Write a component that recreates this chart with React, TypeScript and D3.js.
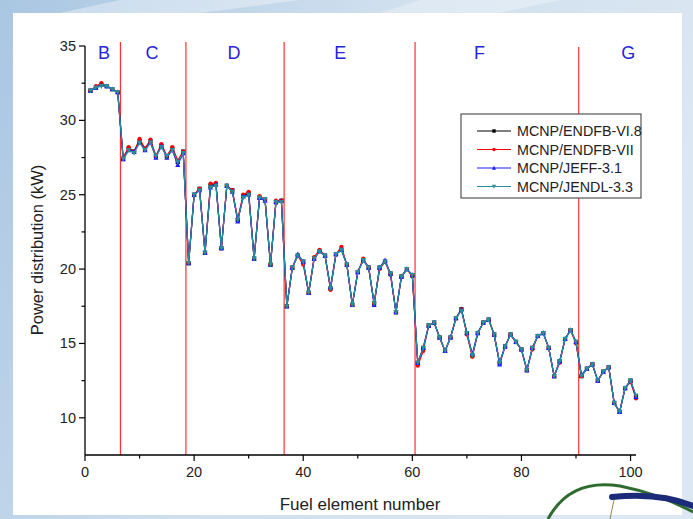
import React from "react";
import * as d3 from "d3";

// ---------------- data ----------------
const elementNumbers: number[] = Array.from({ length: 101 }, (_, i) => i + 1);

const endfb68: number[] = [
  32.0, 32.2, 32.4, 32.3, 32.1, 31.9,
  27.4, 28.1, 27.9, 28.6, 28.1, 28.6, 27.6, 28.3, 27.6, 28.1, 27.2, 27.9,
  20.4, 25.0, 25.4, 21.1, 25.6, 25.7, 21.4, 25.6, 25.3, 23.3, 24.9, 25.1, 20.7, 24.8, 24.7, 20.3, 24.5, 24.6,
  17.5, 20.1, 20.9, 20.5, 18.4, 20.7, 21.2, 20.9, 18.7, 21.0, 21.3, 20.3, 17.6, 19.8, 20.6, 20.1, 17.7, 20.1, 20.5, 19.7, 17.1, 19.5, 20.0, 19.6,
  13.7, 14.7, 16.2, 16.4, 15.4, 14.5, 15.4, 16.7, 17.3, 15.7, 14.2, 15.7, 16.4, 16.6, 15.6, 13.7, 14.8, 15.6, 15.1, 14.6, 13.2, 14.7, 15.5, 15.7, 14.7, 12.8, 13.8, 15.3, 15.9, 15.1,
  12.8, 13.3, 13.6, 12.5, 13.1, 13.4, 11.0, 10.4, 12.0, 12.5, 11.4,
];
const endfb7: number[] = [
  32.0, 32.3, 32.5, 32.3, 32.1, 31.9,
  27.5, 28.2, 27.9, 28.75, 28.1, 28.7, 27.6, 28.4, 27.6, 28.2, 27.3, 27.9,
  20.4, 25.0, 25.4, 21.1, 25.75, 25.8, 21.4, 25.6, 25.3, 23.4, 25.0, 25.2, 20.7, 24.9, 24.7, 20.3, 24.6, 24.6,
  17.5, 20.1, 20.9, 20.3, 18.4, 20.8, 21.3, 20.9, 18.6, 21.0, 21.5, 20.3, 17.6, 19.8, 20.7, 20.1, 17.7, 20.0, 20.5, 19.6, 17.1, 19.5, 20.0, 19.5,
  13.5, 14.5, 16.2, 16.4, 15.4, 14.5, 15.4, 16.7, 17.3, 15.6, 14.1, 15.7, 16.4, 16.6, 15.6, 13.7, 14.8, 15.6, 15.1, 14.6, 13.2, 14.6, 15.5, 15.7, 14.7, 12.8, 13.7, 15.3, 15.9, 15.0,
  12.8, 13.3, 13.6, 12.5, 13.1, 13.4, 11.0, 10.4, 12.0, 12.4, 11.3,
];
const jeff31: number[] = [
  32.0, 32.2, 32.4, 32.3, 32.1, 31.9,
  27.4, 28.0, 27.9, 28.5, 28.0, 28.5, 27.5, 28.3, 27.5, 28.0, 27.0, 27.8,
  20.4, 25.0, 25.3, 21.1, 25.5, 25.7, 21.4, 25.6, 25.2, 23.2, 24.9, 25.0, 20.7, 24.8, 24.6, 20.3, 24.5, 24.6,
  17.5, 20.1, 21.0, 20.5, 18.4, 20.7, 21.2, 20.9, 18.8, 21.0, 21.3, 20.3, 17.6, 19.8, 20.6, 20.1, 17.6, 20.1, 20.6, 19.7, 17.1, 19.5, 20.0, 19.6,
  13.7, 14.7, 16.2, 16.4, 15.4, 14.5, 15.4, 16.7, 17.3, 15.7, 14.3, 15.7, 16.4, 16.6, 15.6, 13.6, 14.8, 15.6, 15.1, 14.6, 13.2, 14.7, 15.5, 15.7, 14.7, 12.8, 13.8, 15.3, 15.9, 15.1,
  12.9, 13.3, 13.6, 12.5, 13.1, 13.4, 11.0, 10.4, 12.0, 12.5, 11.4,
];
const jendl33: number[] = [
  32.0, 32.2, 32.3, 32.3, 32.1, 31.9,
  27.4, 28.0, 27.8, 28.5, 28.0, 28.5, 27.6, 28.2, 27.6, 28.0, 27.2, 27.8,
  20.4, 25.0, 25.3, 21.1, 25.5, 25.6, 21.4, 25.6, 25.2, 23.3, 24.8, 25.0, 20.7, 24.8, 24.7, 20.3, 24.5, 24.5,
  17.5, 20.1, 20.9, 20.5, 18.4, 20.7, 21.2, 20.9, 18.7, 21.0, 21.3, 20.3, 17.6, 19.8, 20.6, 20.1, 17.7, 20.1, 20.5, 19.7, 17.1, 19.5, 20.0, 19.6,
  13.7, 14.7, 16.2, 16.4, 15.4, 14.5, 15.4, 16.7, 17.2, 15.7, 14.2, 15.7, 16.4, 16.6, 15.6, 13.7, 14.8, 15.6, 15.1, 14.6, 13.2, 14.7, 15.5, 15.7, 14.7, 12.8, 13.8, 15.3, 15.9, 15.1,
  12.8, 13.3, 13.6, 12.5, 13.1, 13.4, 11.0, 10.4, 12.0, 12.5, 11.5,
];

const seriesNames: string[] = ["MCNP/ENDFB-VI.8", "MCNP/ENDFB-VII", "MCNP/JEFF-3.1", "MCNP/JENDL-3.3"];
const seriesColors: string[] = ["#000000", "#ff0000", "#1a1aff", "#2a8f9c"];
const seriesMarkers: string[] = ["square", "circle", "up", "down"];
const seriesValues: number[][] = [endfb68, endfb7, jeff31, jendl33];

const regionBoundaries: number[] = [6.5, 18.5, 36.5, 60.5, 90.5];
const regionLabels: string[] = ["B", "C", "D", "E", "F", "G"];
const regionLabelX: number[] = [3.5, 12.3, 27.3, 46.8, 72.3, 99.6];

const xTicks: number[] = [0, 20, 40, 60, 80, 100];
const xMinorTicks: number[] = [10, 30, 50, 70, 90];
const yTicks: number[] = [10, 15, 20, 25, 30, 35];
const yMinorTicks: number[] = [12.5, 17.5, 22.5, 27.5, 32.5];

const W = 693;
const H = 519;
const FONT = "'Liberation Sans', Arial, sans-serif";

function markerPath(kind: string, cx: number, cy: number, s: number): string {
  if (kind === "square") return `M${cx - s},${cy - s}h${2 * s}v${2 * s}h${-2 * s}Z`;
  if (kind === "up") return `M${cx},${cy - s * 1.3}L${cx + s * 1.2},${cy + s}L${cx - s * 1.2},${cy + s}Z`;
  if (kind === "down") return `M${cx},${cy + s * 1.3}L${cx + s * 1.2},${cy - s}L${cx - s * 1.2},${cy - s}Z`;
  return `M${cx - s},${cy}a${s},${s} 0 1,0 ${2 * s},0a${s},${s} 0 1,0 ${-2 * s},0Z`;
}

export default function App() {
  const x = d3.scaleLinear().domain([0, 101]).range([85, 636]);
  const y = d3.scaleLinear().domain([7.5, 35]).range([455, 46]);
  const line = d3
    .line<number>()
    .x((_, i) => x(elementNumbers[i]))
    .y((d) => y(d));

  const legendX = 461;
  const legendY = 114;

  return (
    <svg
      width={W}
      height={H}
      viewBox={`0 0 ${W} ${H}`}
      style={{ position: "absolute", left: 0, top: 0, display: "block" }}
      fontFamily={FONT}
    >
      <defs>
        <linearGradient id="bg" x1="0" y1="0" x2="1" y2="0.3">
          <stop offset="0" stopColor="#a9c6e2" />
          <stop offset="0.5" stopColor="#cfdfee" />
          <stop offset="1" stopColor="#dbe7f2" />
        </linearGradient>
      </defs>
      <rect x={0} y={0} width={W} height={H} fill="url(#bg)" />
      <path d="M120,0 L300,0 L200,13 L60,13 Z" fill="#ffffff" opacity={0.35} />
      <path d="M420,0 L560,0 L500,13 L380,13 Z" fill="#ffffff" opacity={0.3} />
      <rect x={13} y={13} width={669} height={502} fill="#ffffff" />

      {/* region separators */}
      {regionBoundaries.map((b, i) => (
        <line
          key={"rb" + i}
          x1={x(b)}
          x2={x(b)}
          y1={i === regionBoundaries.length - 1 ? 47 : 42}
          y2={y(7.5)}
          stroke="#ff3030"
          strokeWidth={1.2}
        />
      ))}
      {regionLabels.map((t, i) => (
        <text
          key={"rl" + t}
          x={x(regionLabelX[i])}
          y={59}
          textAnchor="middle"
          fontSize={18}
          fill="#2525d6"
        >
          {t}
        </text>
      ))}

      {/* series */}
      {seriesValues.map((vals, si) => (
        <g key={"s" + si}>
          <path d={line(vals) || ""} fill="none" stroke={seriesColors[si]} strokeWidth={1.2} />
          {vals.map((v, i) => (
            <path
              key={i}
              d={markerPath(seriesMarkers[si], x(elementNumbers[i]), y(v), 2.1)}
              fill={seriesColors[si]}
            />
          ))}
        </g>
      ))}

      {/* axes */}
      <line x1={x(0)} x2={x(101)} y1={y(7.5)} y2={y(7.5)} stroke="#000" strokeWidth={1.3} />
      <line x1={x(0)} x2={x(0)} y1={y(7.5)} y2={y(35)} stroke="#000" strokeWidth={1.3} />
      {xTicks.map((t) => (
        <g key={"xt" + t}>
          <line x1={x(t)} x2={x(t)} y1={y(7.5)} y2={y(7.5) + 6} stroke="#000" strokeWidth={1.2} />
          <text x={x(t)} y={y(7.5) + 22} textAnchor="middle" fontSize={14.5} fill="#222">
            {t}
          </text>
        </g>
      ))}
      {xMinorTicks.map((t) => (
        <line key={"xm" + t} x1={x(t)} x2={x(t)} y1={y(7.5)} y2={y(7.5) + 3.5} stroke="#000" strokeWidth={1.2} />
      ))}
      {yTicks.map((t) => (
        <g key={"yt" + t}>
          <line x1={x(0) - 6} x2={x(0)} y1={y(t)} y2={y(t)} stroke="#000" strokeWidth={1.2} />
          <text x={x(0) - 9} y={y(t) + 5} textAnchor="end" fontSize={14.5} fill="#222">
            {t}
          </text>
        </g>
      ))}
      {yMinorTicks.map((t) => (
        <line key={"ym" + t} x1={x(0) - 3.5} x2={x(0)} y1={y(t)} y2={y(t)} stroke="#000" strokeWidth={1.2} />
      ))}

      <text x={360} y={510} textAnchor="middle" fontSize={17} fill="#222">
        Fuel element number
      </text>
      <text
        transform={`translate(43,250) rotate(-90)`}
        textAnchor="middle"
        fontSize={16.5}
        fill="#222"
      >
        Power distribution (kW)
      </text>

      {/* legend */}
      <rect x={legendX} y={legendY} width={180} height={84} fill="#fff" stroke="#333" strokeWidth={1} />
      {seriesNames.map((n, i) => {
        const ly = legendY + 17 + i * 18.5;
        return (
          <g key={"lg" + i}>
            <line x1={legendX + 16} x2={legendX + 50} y1={ly} y2={ly} stroke={seriesColors[i]} strokeWidth={1} />
            <path d={markerPath(seriesMarkers[i], legendX + 33, ly, 1.7)} fill={seriesColors[i]} />
            <text x={legendX + 56} y={ly + 5} fontSize={14.3} fill="#222">
              {n}
            </text>
          </g>
        );
      })}

      {/* decorative logo corner */}
      <path d="M548,519 Q570,478 620,486 Q660,494 693,512" fill="none" stroke="#2f6b2f" strokeWidth={3} />
      <path d="M612,497 Q660,492 693,506" fill="none" stroke="#1c2a7a" strokeWidth={6} strokeLinecap="round" />
      <line x1={614} y1={500} x2={610} y2={519} stroke="#8a8a50" strokeWidth={1} />
    </svg>
  );
}
